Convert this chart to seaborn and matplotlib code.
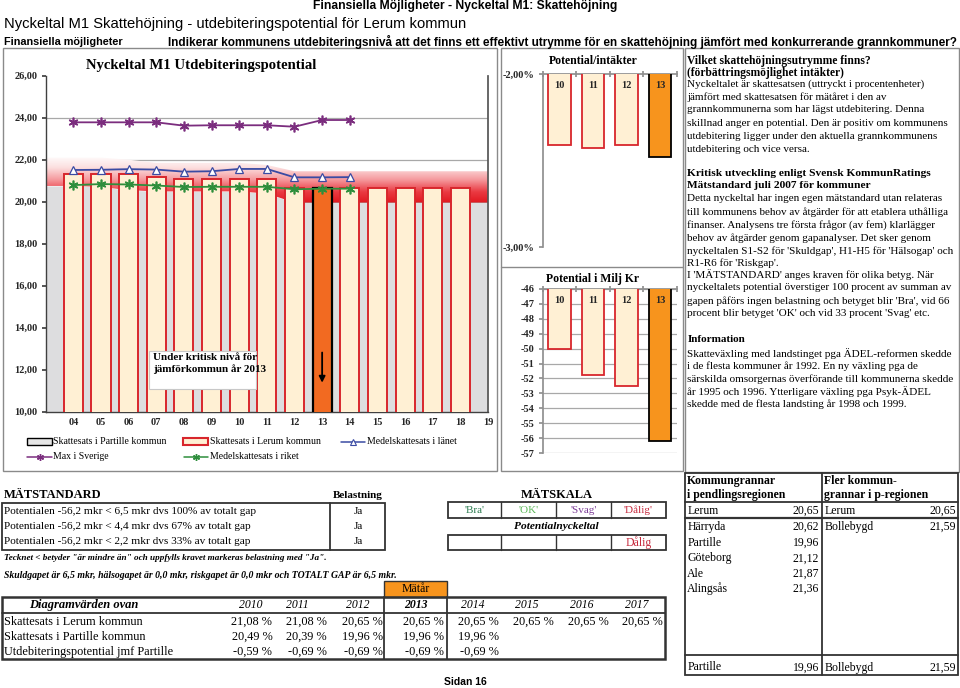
import numpy as np
import matplotlib
matplotlib.use("Agg")
import matplotlib.pyplot as plt
import seaborn as sns
from matplotlib.colors import LinearSegmentedColormap
from matplotlib.patches import Rectangle
from matplotlib.lines import Line2D

# ---------------- data ----------------
bar_x = np.arange(4, 19)                      # years 04..18
lerum = [21.30, 21.30, 21.30, 21.20, 21.08, 21.08, 21.08, 21.08,
         20.65, 20.65, 20.65, 20.65, 20.65, 20.65, 20.65]
area_x = np.arange(3, 20)
partille = [20.75, 20.75, 20.70, 20.55, 20.49, 20.49, 20.49, 20.49, 20.39,
            19.96, 19.96, 19.96, 19.96, 19.96, 19.96, 19.96, 19.96]
critical_top = [22.10, 22.10, 22.10, 22.00, 21.85, 21.85, 21.85, 21.85, 21.75,
                21.45, 21.45, 21.45, 21.45, 21.45, 21.45, 21.45, 21.45]
line_x = np.arange(4, 15)                     # years 04..14
max_sverige = [23.78, 23.78, 23.78, 23.78, 23.62, 23.64, 23.64, 23.64, 23.57, 23.89, 23.89]
medel_lan = [21.51, 21.52, 21.55, 21.53, 21.43, 21.45, 21.56, 21.56, 21.16, 21.16, 21.17]
medel_riket = [20.79, 20.84, 20.82, 20.77, 20.70, 20.71, 20.71, 20.71, 20.59, 20.62, 20.62]
xtick_labels = ["04", "05", "06", "07", "08", "09", "10", "11", "12",
                "13", "14", "15", "16", "17", "18", "19"]

pot_cats = ["10", "11", "12", "13"]
pot_pct = [-2.41, -2.43, -2.41, -2.48]
pot_mkr = [-50.0, -51.8, -52.5, -56.2]

tab_years = ["2010", "2011", "2012", "2013", "2014", "2015", "2016", "2017"]
tab_lerum = [21.08, 21.08, 20.65, 20.65, 20.65, 20.65, 20.65, 20.65]
tab_partille = [20.49, 20.39, 19.96, 19.96, 19.96]
tab_potential = [-0.59, -0.69, -0.69, -0.69, -0.69]

grannar = ["Lerum", "Härryda", "Partille", "Göteborg", "Ale", "Alingsås"]
grannar_val = [20.65, 20.62, 19.96, 21.12, 21.87, 21.36]
fler = ["Lerum", "Bollebygd"]
fler_val = [20.65, 21.59]

# ---------------- style ----------------
sns.set_theme(style="white")
SERIF = ["Liberation Serif", "DejaVu Serif"]
SANS = ["Liberation Sans", "DejaVu Sans"]
plt.rcParams["font.family"] = SERIF

CREAM = "#FFF0D4"
RED = "#D8262C"
ORANGE_MAIN = "#F26A21"
ORANGE = "#F7941D"
PURPLE = "#7B2D7E"
BLUE = "#3A4BA3"
GREEN = "#2E8E3C"
FRAME = "#8A8A8A"
W, H = 960, 688

fig = plt.figure(figsize=(9.6, 6.88), dpi=100)
bg = fig.add_axes([0, 0, 1, 1])
bg.set_xlim(0, W)
bg.set_ylim(H, 0)
bg.axis("off")


def px_axes(x0, y0, x1, y1):
    return fig.add_axes([x0 / W, 1 - y1 / H, (x1 - x0) / W, (y1 - y0) / H])


def txt(x, y, s, size=7.5, weight="normal", style="normal", ha="left",
        color="black", family=None, on=None):
    (on or bg).text(x, y, s, fontsize=size, fontweight=weight, fontstyle=style,
                    ha=ha, va="center", color=color, family=family or SERIF)


def box(x0, y0, x1, y1, lw=1.0, ec="#333333", fc="none", z=1, on=None):
    (on or bg).add_patch(Rectangle((x0, y0), x1 - x0, y1 - y0, lw=lw, ec=ec,
                                   fc=fc, zorder=z))


def hline(y, x0, x1, lw=1.0, c="#333333"):
    bg.plot([x0, x1], [y, y], color=c, lw=lw)


def vline(x, y0, y1, lw=1.0, c="#333333"):
    bg.plot([x, x], [y0, y1], color=c, lw=lw)


def fmt(v, dec=2):
    return f"{v:.{dec}f}".replace(".", ",")


# ---------------- page header ----------------
txt(465, 6, "Finansiella Möjligheter - Nyckeltal M1: Skattehöjning", size=8.7,
    weight="bold", ha="center", family=SANS)
txt(4, 24, "Nyckeltal M1 Skattehöjning - utdebiteringspotential för Lerum kommun",
    size=10.6, family=SANS)
txt(4, 42, "Finansiella möjligheter", size=7.8, weight="bold", family=SANS)
txt(168, 42, "Indikerar kommunens utdebiteringsnivå att det finns ett effektivt utrymme "
    "för en skattehöjning jämfört med konkurrerande grannkommuner?",
    size=8.45, weight="bold", family=SANS)

# frames
box(3, 48, 497, 471, ec=FRAME)
box(501, 48, 683, 471, ec=FRAME)
hline(267, 501, 683, c=FRAME)
box(685, 48, 959, 472, ec=FRAME)

# ---------------- main chart ----------------
ax = px_axes(45.7, 75.7, 488, 411.7)
ax.set_facecolor("white")
ax.fill_between(area_x, 10, partille, color="#DDDDDF", lw=0, zorder=1)
band = ax.fill_between(area_x, partille, critical_top, facecolor="none",
                       edgecolor="none", zorder=1.5)
cmap = LinearSegmentedColormap.from_list(
    "band", ["#E0141C", "#EA3A42", "#F59A9E", "#FCE0E0", "#FFFFFF"])
grad = np.linspace(0, 1, 256).reshape(-1, 1)
im = ax.imshow(grad, cmap=cmap, extent=(3, 19, 19.9, 22.2), origin="lower",
               aspect="auto", zorder=1.5, interpolation="bicubic")
im.set_clip_path(band.get_paths()[0], transform=ax.transData)

sns.barplot(x=bar_x, y=lerum, native_scale=True, width=0.69, color=CREAM,
            saturation=1, edgecolor=RED, linewidth=1.4, errorbar=None, ax=ax, zorder=3)
bars = list(ax.patches)
bars[9].set_facecolor(ORANGE_MAIN)
bars[9].set_edgecolor("black")
bars[9].set_linewidth(1.6)
for b in bars:
    b.set_zorder(3)

star = (6, 2, 0)
sns.lineplot(x=line_x, y=max_sverige, color=PURPLE, lw=1.3, marker=star,
             markersize=7, markeredgewidth=1.2, markeredgecolor=PURPLE, ax=ax, zorder=5)
sns.lineplot(x=line_x, y=medel_lan, color=BLUE, lw=1.3, marker="^",
             markersize=6, markerfacecolor="white", markeredgecolor=BLUE,
             markeredgewidth=0.9, ax=ax, zorder=5)
sns.lineplot(x=line_x, y=medel_riket, color=GREEN, lw=1.3, marker=star,
             markersize=7, markeredgewidth=1.2, markeredgecolor=GREEN, ax=ax, zorder=5)

ax.annotate("", xy=(13, 11.25), xytext=(13, 12.95),
            arrowprops=dict(arrowstyle="-|>", color="black", lw=1.3,
                            mutation_scale=9), zorder=6)

ax.set_xlim(3, 19)
ax.set_ylim(10, 26)
ax.set_yticks(np.arange(10, 27, 2))
ax.set_yticklabels([fmt(v) for v in np.arange(10, 27, 2)], fontsize=7.5,
                   fontweight="bold")
ax.set_xticks(np.arange(4, 20))
ax.set_xticklabels(xtick_labels, fontsize=7.5, fontweight="bold")
ax.tick_params(axis="y", length=3, pad=3, color="#404040", left=True)
ax.tick_params(axis="x", length=0, pad=4.5)
ax.yaxis.grid(True, color="#A8A8A8", lw=0.9, zorder=0.5)
ax.set_axisbelow(True)
ax.get_ygridlines()[-1].set_visible(False)
ax.set_xlabel("")
ax.set_ylabel("")
for side in ["left", "bottom"]:
    ax.spines[side].set_color("#404040")
    ax.spines[side].set_linewidth(1.0)
ax.spines["right"].set_color("#555555")
ax.spines["top"].set_visible(False)

txt(86, 65, "Nyckeltal M1 Utdebiteringspotential", size=10.6, weight="bold")
txt(52, 88, "Skattesats i procent", size=7.5, weight="bold")

# legend
box(27, 438, 52, 445, lw=1.0, ec="black", fc="#E6E6E6", z=2)
txt(53, 441.7, "Skattesats i Partille kommun", size=7)
box(183, 438, 208, 445, lw=1.5, ec=RED, fc=CREAM, z=2)
txt(210, 441.7, "Skattesats i Lerum kommun", size=7)
bg.add_line(Line2D([341, 365], [441.7, 441.7], color=BLUE, lw=1.1))
bg.plot([353], [441.7], marker="^", ms=4.5, mfc="white", mec=BLUE, mew=0.8)
txt(367, 441.7, "Medelskattesats i länet", size=7)
bg.add_line(Line2D([27, 52], [456.7, 456.7], color=PURPLE, lw=1.1))
bg.plot([39.5], [456.7], marker=star, ms=5, mec=PURPLE, mew=1)
txt(53, 456.7, "Max i Sverige", size=7)
bg.add_line(Line2D([184, 208], [456.7, 456.7], color=GREEN, lw=1.1))
bg.plot([196], [456.7], marker=star, ms=5, mec=GREEN, mew=1)
txt(210, 456.7, "Medelskattesats i riket", size=7)

# ---------------- small chart 1: Potential/intäkter ----------------
ax1 = px_axes(542.7, 74, 676.7, 247)
sns.barplot(x=pot_cats, y=pot_pct, hue=pot_cats, saturation=1,
            palette=[CREAM, CREAM, CREAM, ORANGE], legend=False, width=0.68,
            errorbar=None, ax=ax1, zorder=3)
for i, p in enumerate(ax1.patches):
    p.set_edgecolor("black" if i == 3 else RED)
    p.set_linewidth(1.3)
ax1.set_ylim(-3, -2)
ax1.set_xlim(-0.5, 3.5)
ax1.set_yticks([-3, -2])
ax1.set_yticklabels(["-3,00%", "-2,00%"], fontsize=7.5, fontweight="bold")
ax1.xaxis.tick_top()
ax1.set_xticks([-0.5, 0.5, 1.5, 2.5, 3.5])
ax1.set_xticklabels([])
ax1.tick_params(axis="x", direction="inout", length=4, color="#909090", top=True)
ax1.tick_params(axis="y", length=3, pad=3, color="#909090", left=True)
for i, c in enumerate(pot_cats):
    ax1.text(i, -2.068, c, ha="center", va="center", fontsize=7.5,
             fontweight="bold", zorder=5)
for side in ["left", "top"]:
    ax1.spines[side].set_color("#909090")
ax1.spines["right"].set_visible(False)
ax1.spines["bottom"].set_visible(False)
ax1.set_xlabel("")
ax1.set_ylabel("")
txt(593, 60.7, "Potential/intäkter", size=8.5, weight="bold", ha="center")

# ---------------- small chart 2: Potential i Milj Kr ----------------
ax2 = px_axes(542.7, 288.7, 676.7, 453.3)
sns.barplot(x=pot_cats, y=pot_mkr, hue=pot_cats, saturation=1,
            palette=[CREAM, CREAM, CREAM, ORANGE], legend=False, width=0.68,
            errorbar=None, ax=ax2, zorder=3)
for i, p in enumerate(ax2.patches):
    p.set_edgecolor("black" if i == 3 else RED)
    p.set_linewidth(1.3)
ax2.set_ylim(-57, -46)
ax2.set_xlim(-0.5, 3.5)
yt = np.arange(-57, -45)
ax2.set_yticks(yt)
ax2.set_yticklabels([str(v) for v in yt], fontsize=7.5, fontweight="bold")
ax2.yaxis.grid(True, color="#A8A8A8", lw=0.9)
ax2.set_axisbelow(True)
ax2.xaxis.tick_top()
ax2.set_xticks([-0.5, 0.5, 1.5, 2.5, 3.5])
ax2.set_xticklabels([])
ax2.tick_params(axis="x", direction="inout", length=4, color="#909090", top=True)
ax2.tick_params(axis="y", length=3, pad=3, color="#909090", left=True)
for i, c in enumerate(pot_cats):
    ax2.text(i, -46.8, c, ha="center", va="center", fontsize=7.5,
             fontweight="bold", zorder=5)
for side in ["left", "top"]:
    ax2.spines[side].set_color("#909090")
ax2.spines["right"].set_visible(False)
ax2.spines["bottom"].set_visible(False)
ax2.set_xlabel("")
ax2.set_ylabel("")
txt(593, 278.7, "Potential i Milj Kr", size=8.5, weight="bold", ha="center")

# ---------------- right text panel ----------------
panel = [
    (60.7, "Vilket skattehöjningsutrymme finns?", 8.3, True),
    (73.3, "(förbättringsmöjlighet intäkter)", 8.3, True),
    (84.3, "Nyckeltalet är skattesatsen (uttryckt i procentenheter)", 8.0, False),
    (97.0, "jämfört med skattesatsen för mätåret i den av", 8.0, False),
    (110.0, "grannkommunerna som har lägst utdebitering. Denna", 8.0, False),
    (123.3, "skillnad anger en potential. Den är positiv om kommunens", 8.0, False),
    (136.7, "utdebitering ligger under den aktuella grannkommunens", 8.0, False),
    (150.0, "utdebitering och vice versa.", 8.0, False),
    (173.3, "Kritisk utveckling enligt Svensk KommunRatings", 8.2, True),
    (185.5, "Mätstandard juli 2007 för kommuner", 8.2, True),
    (198.3, "Detta nyckeltal har ingen egen mätstandard utan relateras", 8.0, False),
    (211.7, "till kommunens behov av åtgärder för att etablera uthålliga", 8.0, False),
    (225.0, "finanser. Analysens tre första frågor (av fem) klarlägger", 8.0, False),
    (238.3, "behov av åtgärder genom gapanalyser. Det sker genom", 8.0, False),
    (250.7, "nyckeltalen S1-S2 för 'Skuldgap', H1-H5 för 'Hälsogap' och", 8.0, False),
    (262.7, "R1-R6 för 'Riskgap'.", 8.0, False),
    (275.0, "I 'MÄTSTANDARD' anges kraven för olika betyg. När", 8.0, False),
    (287.7, "nyckeltalets potential överstiger 100 procent av summan av", 8.0, False),
    (300.7, "gapen påförs ingen belastning och betyget blir 'Bra', vid 66", 8.0, False),
    (313.3, "procent blir betyget 'OK' och vid 33 procent 'Svag' etc.", 8.0, False),
    (340.0, "Information", 8.0, True),
    (353.3, "Skatteväxling med landstinget pga ÄDEL-reformen skedde", 8.0, False),
    (366.0, "i de flesta kommuner år 1992. En ny växling pga de", 8.0, False),
    (379.0, "särskilda omsorgernas överförande till kommunerna skedde", 8.0, False),
    (391.7, "år 1995 och 1996. Ytterligare växling pga Psyk-ÄDEL", 8.0, False),
    (404.3, "skedde med de flesta landsting år 1998 och 1999.", 8.0, False),
]
for y, s, size, bold in panel:
    txt(687.3, y, s, size=size, weight="bold" if bold else "normal")

# ---------------- MÄTSTANDARD ----------------
txt(4, 495, "MÄTSTANDARD", size=9, weight="bold")
txt(358, 495, "Belastning", size=8, weight="bold", ha="center")
txt(556.7, 495, "MÄTSKALA", size=9, weight="bold", ha="center")
box(1.5, 503, 385, 550, lw=1.3)
vline(330.4, 503, 550, lw=1.3)
gaps = [6.5, 4.4, 2.2]
shares = [100, 67, 33]
for y, g, sh in zip([511.7, 526.7, 541.7], gaps, shares):
    txt(4, y, f"Potentialen {fmt(pot_mkr[3], 1)} mkr < {fmt(g, 1)} mkr dvs {sh}% av totalt gap",
        size=8.1)
    txt(358, y, "Ja", size=8.1, ha="center")

cell_x = [447.7, 501, 556, 611, 665.7]
scale_lbl = ["'Bra'", "'OK'", "'Svag'", "'Dålig'"]
scale_col = ["#2E7D52", "#5DB85A", "#7E3F98", "#C62B3E"]
for y0, y1 in [(501.7, 518.3), (535, 550)]:
    box(cell_x[0], y0, cell_x[-1], y1, lw=1.3)
    for cx in cell_x[1:-1]:
        vline(cx, y0, y1, lw=1.0)
for i, (s, c) in enumerate(zip(scale_lbl, scale_col)):
    txt((cell_x[i] + cell_x[i + 1]) / 2, 510.5, s, size=8, ha="center", color=c)
txt(556.7, 526.7, "Potentialnyckeltal", size=8.2, weight="bold", style="italic", ha="center")
txt((cell_x[3] + cell_x[4]) / 2, 543, "Dålig", size=8.5, ha="center", color=scale_col[3])

txt(4, 558.3, 'Tecknet < betyder "är mindre än" och uppfylls kravet markeras belastning med "Ja".',
    size=6.6, weight="bold", style="italic")
txt(4, 575, "Skuldgapet är 6,5 mkr, hälsogapet är 0,0 mkr, riskgapet är 0,0 mkr och "
    "TOTALT GAP är 6,5 mkr.", size=7.0, weight="bold", style="italic")

# ---------------- Diagramvärden table ----------------
box(384, 580.7, 446.7, 596.7, lw=1.0, fc=ORANGE)
txt(415.3, 588.5, "Mätår", size=8.5, ha="center")
box(1.5, 596.7, 665, 659.3, lw=1.8)
hline(613.3, 1.5, 665, lw=1.3)
vline(384, 596.7, 659.3, lw=1.3)
vline(446.7, 596.7, 659.3, lw=1.3)
txt(84, 605, "Diagramvärden ovan", size=9, weight="bold", style="italic", ha="center")
head_x = [250.6, 297, 357.8, 416, 472.7, 526.7, 581.7, 636.7]
val_right = [272.3, 326.5, 383, 444, 499, 553.3, 608.3, 662.7]
for i, yr in enumerate(tab_years):
    txt(head_x[i], 605, yr, size=8.5, style="italic",
        weight="bold" if yr == "2013" else "normal", ha="center")
rows = [("Skattesats i Lerum kommun", tab_lerum),
        ("Skattesats i Partille kommun", tab_partille),
        ("Utdebiteringspotential jmf Partille", tab_potential)]
for y, (lbl, vals) in zip([621.7, 636.7, 651.5], rows):
    txt(3.5, y, lbl, size=8.8)
    for i, v in enumerate(vals):
        txt(val_right[i], y, f"{fmt(v)} %", size=8.8, ha="right")

# ---------------- Kommungrannar table ----------------
box(684.7, 473.3, 957.7, 675, lw=1.3)
vline(821.7, 473.3, 675, lw=1.3)
hline(501.7, 684.7, 957.7, lw=1.3)
hline(518.3, 684.7, 957.7, lw=1.6)
hline(655, 684.7, 957.7, lw=1.3)
txt(687.3, 480.7, "Kommungrannar", size=8.5, weight="bold")
txt(687.3, 495, "i pendlingsregionen", size=8.5, weight="bold")
txt(824.5, 480.7, "Fler kommun-", size=8.5, weight="bold")
txt(824.5, 495, "grannar i p-regionen", size=8.5, weight="bold")
row_y = [510.5, 526.7, 542.7, 558.3, 574, 589]
for y, n, v in zip(row_y, grannar, grannar_val):
    txt(687.3, y, n, size=8.5)
    txt(819.3, y, fmt(v), size=8.5, ha="right")
for y, n, v in zip(row_y, fler, fler_val):
    txt(824.5, y, n, size=8.5)
    txt(956, y, fmt(v), size=8.5, ha="right")
lo = int(np.argmin(grannar_val))
hi = int(np.argmax(fler_val))
txt(687.3, 667.5, grannar[lo], size=8.5)
txt(819.3, 667.5, fmt(grannar_val[lo]), size=8.5, ha="right")
txt(824.5, 667.5, fler[hi], size=8.5)
txt(956, 667.5, fmt(fler_val[hi]), size=8.5, ha="right")

txt(465, 682, "Sidan 16", size=7.5, weight="bold", ha="center", family=SANS)

# ---------------- overlay (text box inside main chart) ----------------
fg = fig.add_axes([0, 0, 1, 1], zorder=10)
fg.set_xlim(0, W)
fg.set_ylim(H, 0)
fg.axis("off")
fg.patch.set_alpha(0)
box(149, 350.5, 256, 388.5, lw=0.8, ec="#C8C8C8", fc="white", z=1, on=fg)
txt(152.7, 357.7, "Under kritisk nivå för", size=8, weight="bold", on=fg)
txt(152.7, 369.5, "jämförkommun år 2013", size=8, weight="bold", on=fg)

fig.savefig("out.png", dpi=100, facecolor="white")
